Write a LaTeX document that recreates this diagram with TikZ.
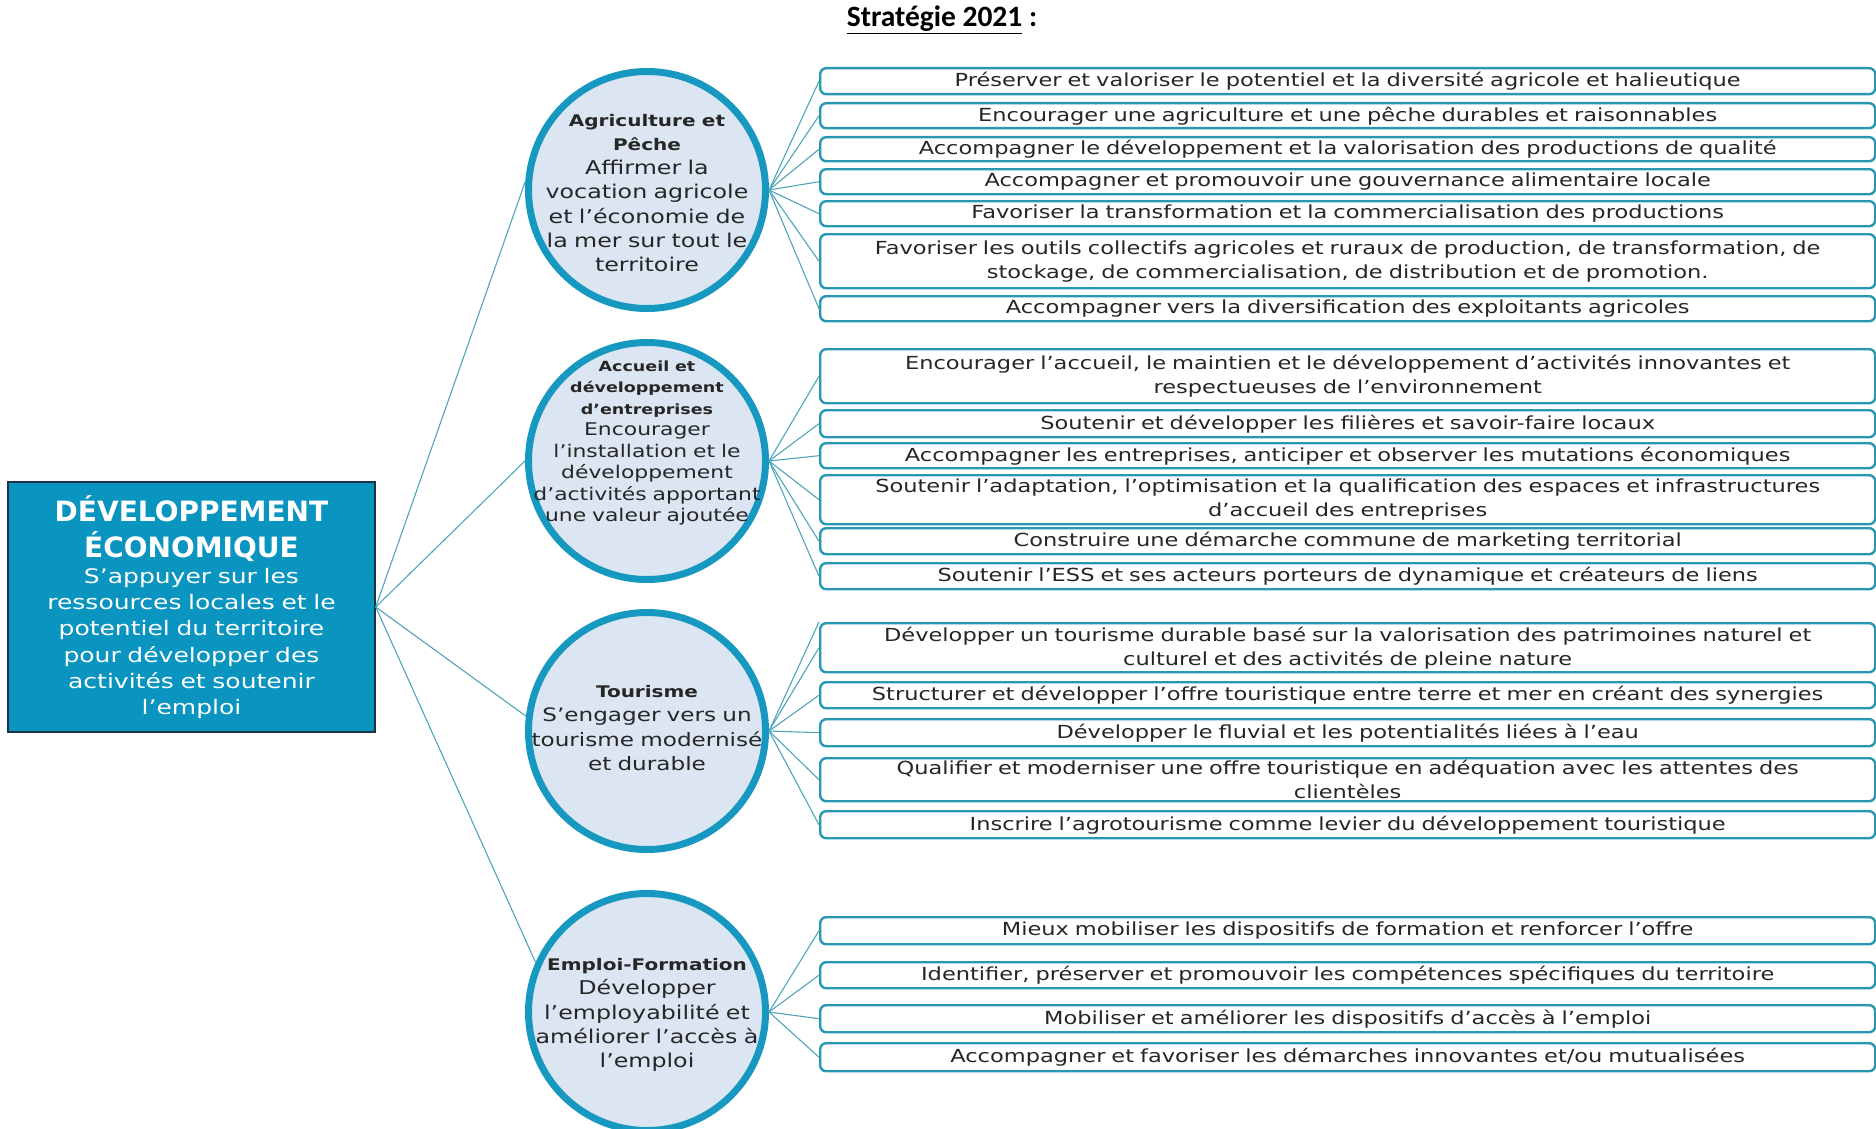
\documentclass[tikz,border=0pt]{standalone}
\usepackage{fontspec}
\setmainfont[FakeStretch=1.25]{DejaVu Sans}
\newfontfamily\headfont{DejaVu Sans}
\newfontfamily\titlefont{Carlito}
\definecolor{mainfill}{RGB}{10,148,192}
\definecolor{mainborder}{RGB}{30,50,70}
\definecolor{circcol}{RGB}{22,152,192}
\definecolor{circfill}{RGB}{220,230,242}
\definecolor{boxcol}{RGB}{40,152,178}
\definecolor{linecol}{RGB}{80,165,185}
\begin{document}
\begin{tikzpicture}[x=1pt,y=-1pt,
  goal/.style={draw=boxcol, line width=2.4pt, rounded corners=6pt, fill=white, anchor=north west,
    minimum width=1055pt, inner sep=0pt, text width=1050pt, align=center, font=\fontsize{18}{24}\selectfont, text=black!85},
  circ/.style={circle, draw=circcol, line width=7pt, fill=circfill, minimum size=237pt, inner sep=0pt},
  ctext/.style={align=center, text width=320pt, text=black!85, inner sep=0pt},
  conn/.style={draw=linecol, line width=1.1pt},
]
\useasboundingbox (0,0) rectangle (1876,1129);

% title
\node[inner sep=0pt] (title) at (942,20) {\titlefont\bfseries\fontsize{29.5}{32}\selectfont\underline{Stratégie 2021} :};

% main box
\node[draw=mainborder, line width=1.5pt, fill=mainfill, minimum width=367pt, minimum height=250pt,
  inner sep=0pt, text width=365pt, align=center, text=white, font=\fontsize{20}{26.3}\selectfont] (main) at (191.5,607)
  {\relax\headfont\bfseries\fontsize{28}{36}\selectfont DÉVELOPPEMENT\\ÉCONOMIQUE\par
   \normalfont\fontsize{20}{26.3}\selectfont S’appuyer sur les\\ressources locales et le\\potentiel du territoire\\pour développer des\\activités et soutenir\\l’emploi\par};

% circles
\node[circ] (c1) at (647,190) {};
\node[circ] (c2) at (647,461) {};
\node[circ] (c3) at (647,731) {};
\node[circ] (c4) at (647,1012) {};

\node[ctext, font=\fontsize{19}{24.3}\selectfont] (t1) at (647,193) {\relax\bfseries\fontsize{16}{24.3}\selectfont Agriculture et\\Pêche\par
  \mdseries\fontsize{19}{24.3}\selectfont Affirmer la\\vocation agricole\\et l’économie de\\la mer sur tout le\\territoire\par};
\node[ctext, font=\fontsize{17.5}{21.5}\selectfont] (t2) at (647,443) {\relax\bfseries\fontsize{14}{21.5}\selectfont Accueil et\\développement\\d’entreprises\par
  \mdseries\fontsize{17.5}{21.5}\selectfont Encourager\\l’installation et le\\développement\\d’activités apportant\\une valeur ajoutée\par};
\node[ctext, font=\fontsize{18.5}{24.3}\selectfont] (t3) at (647,728) {\relax\bfseries\fontsize{16}{24.3}\selectfont Tourisme\par
  \mdseries\fontsize{18.5}{24.3}\selectfont S’engager vers un\\tourisme modernisé\\et durable\par};
\node[ctext, font=\fontsize{19}{24.3}\selectfont] (t4) at (647,1015) {\relax\bfseries\fontsize{16}{24.3}\selectfont Emploi-Formation\par
  \mdseries\fontsize{19}{24.3}\selectfont Développer\\l’employabilité et\\améliorer l’accès à\\l’emploi\par};

% goal boxes
\node[goal, minimum height=26pt] (b1) at (819,67) {Préserver et valoriser le potentiel et la diversité agricole et halieutique};
\node[goal, minimum height=25pt] (b2) at (819,102) {Encourager une agriculture et une pêche durables et raisonnables};
\node[goal, minimum height=24pt] (b3) at (819,136) {Accompagner le développement et la valorisation des productions de qualité};
\node[goal, minimum height=25pt] (b4) at (819,168) {Accompagner et promouvoir une gouvernance alimentaire locale};
\node[goal, minimum height=25pt] (b5) at (819,200) {Favoriser la transformation et la commercialisation des productions};
\node[goal, minimum height=54pt] (b6) at (819,233) {Favoriser les outils collectifs agricoles et ruraux de production, de transformation, de\\stockage, de commercialisation, de distribution et de promotion.};
\node[goal, minimum height=25pt] (b7) at (819,295) {Accompagner vers la diversification des exploitants agricoles};

\node[goal, minimum height=54pt] (b8) at (819,348) {Encourager l’accueil, le maintien et le développement d’activités innovantes et\\respectueuses de l’environnement};
\node[goal, minimum height=27pt] (b9) at (819,409) {Soutenir et développer les filières et savoir-faire locaux};
\node[goal, minimum height=25pt] (b10) at (819,442) {Accompagner les entreprises, anticiper et observer les mutations économiques};
\node[goal, minimum height=49pt] (b11) at (819,474) {Soutenir l’adaptation, l’optimisation et la qualification des espaces et infrastructures\\d’accueil des entreprises};
\node[goal, minimum height=26pt] (b12) at (819,527) {Construire une démarche commune de marketing territorial};
\node[goal, minimum height=26pt] (b13) at (819,562) {Soutenir l’ESS et ses acteurs porteurs de dynamique et créateurs de liens};

\node[goal, minimum height=49pt] (b14) at (819,622) {Développer un tourisme durable basé sur la valorisation des patrimoines naturel et\\culturel et des activités de pleine nature};
\node[goal, minimum height=26pt] (b15) at (819,681) {Structurer et développer l’offre touristique entre terre et mer en créant des synergies};
\node[goal, minimum height=27pt] (b16) at (819,718) {Développer le fluvial et les potentialités liées à l’eau};
\node[goal, minimum height=43pt] (b17) at (819,757) {Qualifier et moderniser une offre touristique en adéquation avec les attentes des\\clientèles};
\node[goal, minimum height=27pt] (b18) at (819,810) {Inscrire l’agrotourisme comme levier du développement touristique};

\node[goal, minimum height=27pt] (b19) at (819,916) {Mieux mobiliser les dispositifs de formation et renforcer l’offre};
\node[goal, minimum height=26pt] (b20) at (819,961) {Identifier, préserver et promouvoir les compétences spécifiques du territoire};
\node[goal, minimum height=27pt] (b21) at (819,1004) {Mobiliser et améliorer les dispositifs d’accès à l’emploi};
\node[goal, minimum height=28pt] (b22) at (819,1042) {Accompagner et favoriser les démarches innovantes et/ou mutualisées};

% connectors main -> circles
\draw[conn] (main.east) -- (c1.176);
\draw[conn] (main.east) -- (c2.west);
\draw[conn] (main.east) -- (c3.173);
\draw[conn] (main.east) -- (c4.156);

% connectors circles -> boxes
\foreach \b in {b1,b2,b3,b4,b5,b6,b7} \draw[conn] (c1.east) -- (\b.west);
\foreach \b in {b8,b9,b10,b11,b12,b13} \draw[conn] (c2.east) -- (\b.west);
\foreach \b in {b14,b15,b16,b17,b18} \draw[conn] (c3.east) -- (\b.west);
\draw[conn] (c3.east) -- (b14.north west);
\foreach \b in {b19,b20,b21,b22} \draw[conn] (c4.east) -- (\b.west);
\end{tikzpicture}
\end{document}
